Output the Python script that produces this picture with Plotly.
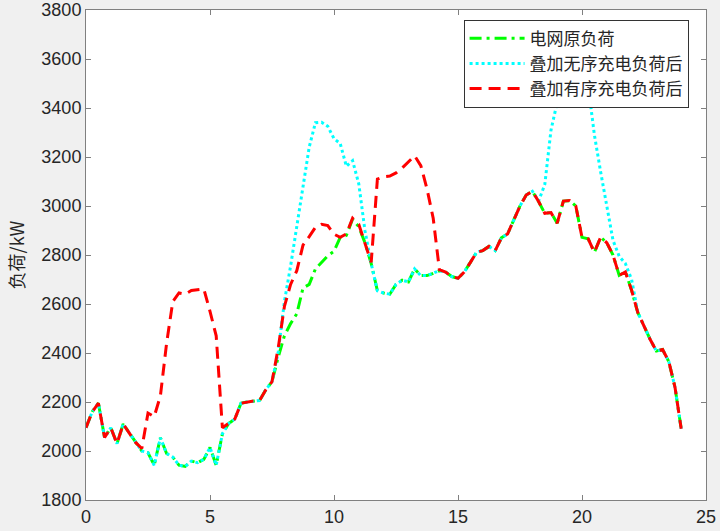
import numpy as np
import plotly.graph_objects as go

# 15-min resolution, 0..24 h
hours = np.arange(0, 24.01, 0.25)

# 电网原负荷 (kW)
base_load = [
    2095, 2160, 2195, 2055, 2095, 2030, 2110, 2075,
    2035, 2000, 1993, 1942, 2054, 1990, 1975, 1942,
    1937, 1959, 1952, 1966, 2014, 1942, 2070, 2112,
    2130, 2195, 2200, 2204, 2206, 2250, 2283, 2383,
    2470, 2520, 2560, 2665, 2680, 2743, 2770, 2797,
    2815, 2872, 2880, 2947, 2915, 2850, 2765, 2654,
    2645, 2640, 2680, 2697, 2690, 2743, 2716, 2716,
    2725, 2736, 2730, 2712, 2705, 2730, 2770, 2811,
    2818, 2835, 2818, 2870, 2886, 2945, 3000, 3045,
    3060, 3018, 2970, 2973, 2930, 3020, 3022, 3000,
    2872, 2866, 2811, 2872, 2850, 2800, 2717, 2731,
    2656, 2565, 2510, 2455, 2408, 2414, 2365, 2260,
    2091,
]

# 叠加无序充电负荷后 (kW)
disorder_load = [
    2095, 2160, 2195, 2055, 2095, 2030, 2110, 2075,
    2035, 2000, 1993, 1942, 2054, 1990, 1975, 1942,
    1937, 1959, 1952, 1966, 2014, 1942, 2070, 2112,
    2130, 2195, 2200, 2204, 2206, 2250, 2283, 2404,
    2610, 2755, 2913, 3090, 3240, 3340, 3342, 3325,
    3275, 3255, 3162, 3185, 3090, 2898, 2765, 2654,
    2645, 2640, 2680, 2697, 2690, 2743, 2716, 2716,
    2725, 2736, 2730, 2712, 2705, 2730, 2770, 2811,
    2818, 2835, 2818, 2870, 2886, 2945, 3000, 3045,
    3060, 3020, 3088, 3310, 3425, 3540, 3650, 3700,
    3640, 3490, 3290, 3140, 2993, 2860, 2795, 2765,
    2700, 2565, 2510, 2455, 2408, 2414, 2365, 2260,
    2091,
]

# 叠加有序充电负荷后 (kW)
order_load = [
    2095, 2160, 2195, 2055, 2095, 2030, 2110, 2075,
    2035, 2010, 2155, 2140, 2225, 2440, 2610, 2645,
    2640, 2655, 2660, 2662, 2570, 2470, 2095, 2112,
    2130, 2195, 2200, 2204, 2206, 2250, 2283, 2420,
    2590, 2680, 2736, 2840, 2875, 2913, 2925, 2920,
    2885, 2872, 2886, 2950, 2925, 2845, 2770, 3110,
    3119, 3122, 3135, 3155, 3180, 3205, 3165, 3070,
    2950, 2740, 2730, 2712, 2705, 2730, 2770, 2811,
    2818, 2835, 2818, 2870, 2886, 2945, 3000, 3045,
    3060, 3018, 2970, 2973, 2930, 3020, 3022, 3000,
    2872, 2866, 2811, 2872, 2850, 2800, 2717, 2731,
    2656, 2565, 2510, 2455, 2408, 2414, 2365, 2260,
    2091,
]

series_names = ["电网原负荷", "叠加无序充电负荷后", "叠加有序充电负荷后"]
x_ticks = [0, 5, 10, 15, 20, 25]
y_ticks = [1800, 2000, 2200, 2400, 2600, 2800, 3000, 3200, 3400, 3600, 3800]

fig = go.Figure()

fig.add_trace(go.Scatter(
    x=hours, y=base_load, mode="lines", name=series_names[0],
    line=dict(color="#00ff00", width=3, dash="12px,5px,3px,5px"),
))
fig.add_trace(go.Scatter(
    x=hours, y=disorder_load, mode="lines", name=series_names[1],
    line=dict(color="#00ffff", width=3, dash="3px,3px"),
))
fig.add_trace(go.Scatter(
    x=hours, y=order_load, mode="lines", name=series_names[2],
    line=dict(color="#ff0000", width=3, dash="12px,7px"),
))

axis_style = dict(
    showline=True, linecolor="#808080", linewidth=1, mirror="allticks",
    ticks="inside", ticklen=5, tickcolor="#808080",
    showgrid=False, zeroline=False, automargin=False,
    ticklabeloverflow="allow",
    tickfont=dict(family="Liberation Sans, Arial", size=18, color="#262626"),
)

fig.update_layout(
    width=720, height=531,
    paper_bgcolor="#f0f0f0", plot_bgcolor="white",
    margin=dict(l=86, r=14, t=10, b=31),
    font=dict(family="Liberation Sans, Arial", color="#262626"),
    legend=dict(
        x=0.609, y=0.98, xanchor="left", yanchor="top",
        bgcolor="white", bordercolor="#333333", borderwidth=1,
        font=dict(family="Noto Sans CJK SC", size=17, color="#262626"),
        itemwidth=55, tracegroupgap=0,
    ),
    showlegend=True,
)

fig.update_xaxes(range=[0, 25], tickvals=x_ticks, **axis_style)
fig.update_yaxes(
    range=[1800, 3800], tickvals=y_ticks,
    title=dict(text="负荷/kW", font=dict(family="Noto Sans CJK SC", size=18, color="#262626"), standoff=12),
    **axis_style,
)

# page body has a default 8px margin; drop it so the figure sits at the corner
fig.write_html(
    "out.html",
    config={"displayModeBar": False},
    post_script="document.body.style.margin='0';document.body.style.background='#f0f0f0';",
)
